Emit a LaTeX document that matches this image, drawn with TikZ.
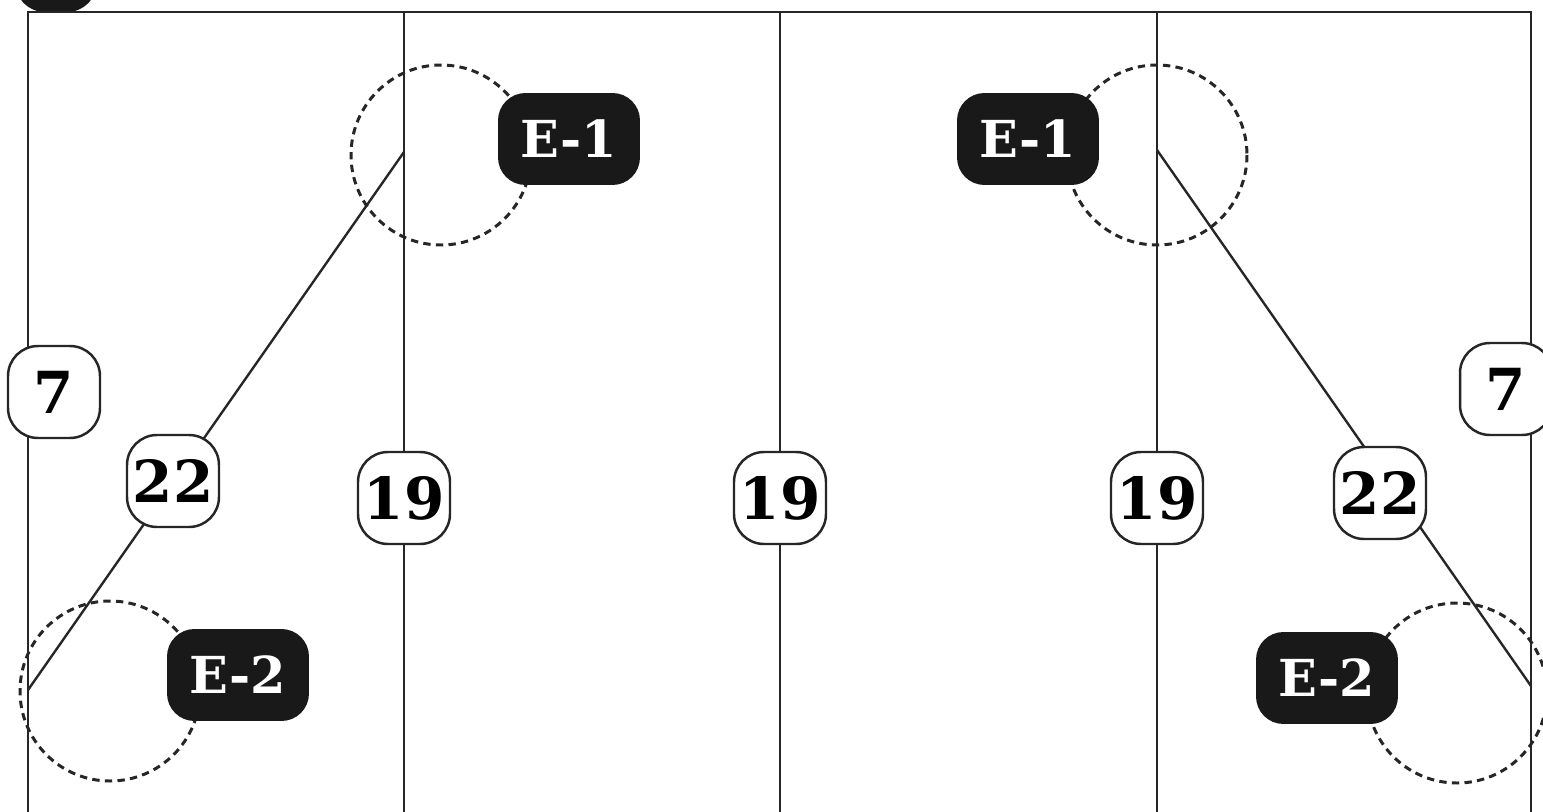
\documentclass[tikz,border=0pt]{standalone}
\usepackage{fontspec}
\setmainfont{DejaVu Serif}
\usetikzlibrary{positioning}
\begin{document}
\begin{tikzpicture}[x=0.02cm,y=-0.02cm]
  \tikzset{
    field/.style={black!85, line width=1.35pt},
    zone/.style={black!85, dash pattern=on 4.2pt off 3pt, line width=1.7pt},
    num/.style={draw=black!85, fill=white, line width=1.4pt, rounded corners=0.6cm, minimum width=1.84cm, minimum height=1.84cm, inner sep=0pt, font=\fontsize{33}{33}\selectfont\bfseries},
    tag/.style={fill=black!90, text=white, rounded corners=0.55cm, minimum width=2.84cm, minimum height=1.84cm, inner sep=0pt, font=\fontsize{29}{29}\selectfont\bfseries}
  }
  \useasboundingbox (0,0) rectangle (1543,812);

  % X positions of the field lines
  \def\xA{28}
  \def\xB{404}
  \def\xC{780}
  \def\xD{1157}
  \def\xE{1531}

  % Corner mark (cut off at the top)
  \fill[black!90, rounded corners=0.6cm] (15,-80) rectangle (97,12);

  % Field outline and lines
  \draw[field] (\xA,830) -- (\xA,12) -- (\xE,12) -- (\xE,830);
  \draw[field] (\xB,12) -- (\xB,830);
  \draw[field] (\xC,12) -- (\xC,830);
  \draw[field] (\xD,12) -- (\xD,830);

  % Diagonals
  \coordinate (topL) at (\xB,152);
  \coordinate (botL) at (\xA,690);
  \coordinate (topR) at (\xD,150);
  \coordinate (botR) at (\xE,686);
  \draw[field] (topL) -- (botL);
  \draw[field] (topR) -- (botR);

  % Dashed zones
  \draw[zone] (441,155) circle (90);
  \draw[zone] (\xD,155) circle (90);
  \draw[zone] (110,691) circle (90);
  \draw[zone] (1457,693) circle (90);

  % Zone tags
  \node[tag] (e1L) at (569,139) {E-1};
  \node[tag] (e1R) at (1028,139) {E-1};
  \node[tag] (e2L) at (238,675) {E-2};
  \node[tag] (e2R) at (1327,678) {E-2};

  % Distance marks
  \node[num] (sevenL) at (54,392) {7};
  \node[num] (sevenR) at (1506,389) {7};
  \node[num] (twentytwoL) at (173,481) {22};
  \node[num] (twentytwoR) at (1380,493) {22};
  \node[num] (nineteenA) at (\xB,498) {19};
  \node[num] (nineteenB) at (\xC,498) {19};
  \node[num] (nineteenC) at (\xD,498) {19};

\end{tikzpicture}
\end{document}
